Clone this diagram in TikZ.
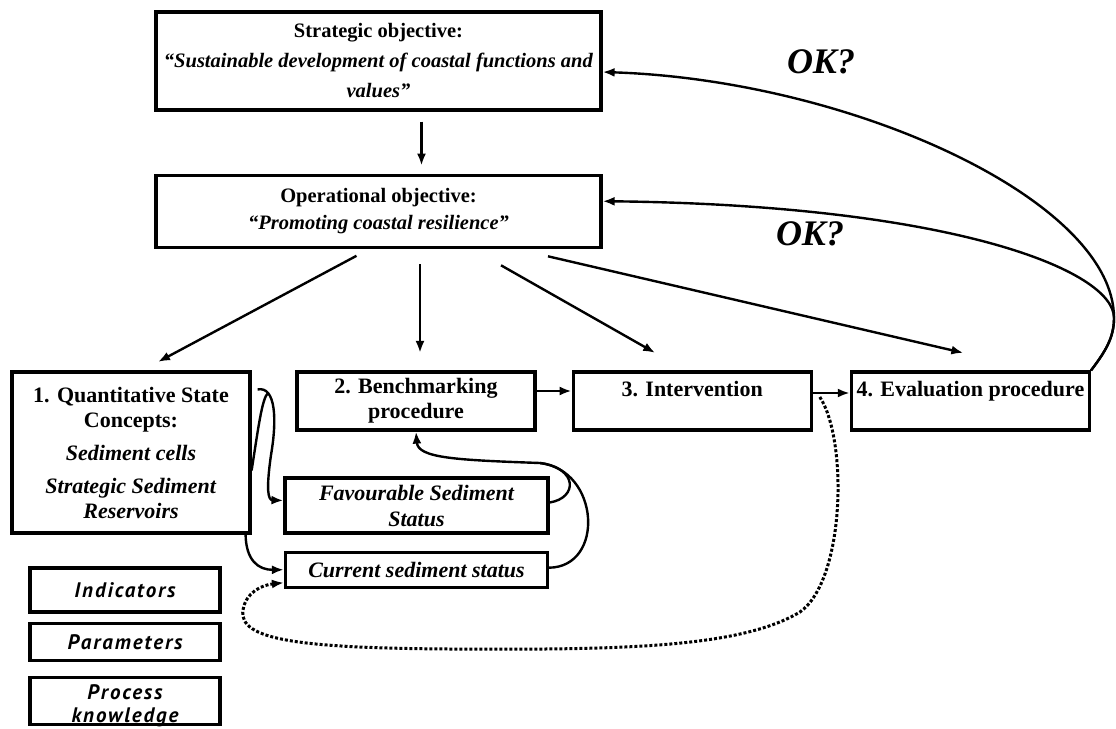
\documentclass[tikz,border=0pt]{standalone}
\usepackage{fontspec}
\setmainfont{Liberation Serif}
\newfontfamily\gillish[LetterSpace=9]{PT Sans}
\usetikzlibrary{positioning,arrows.meta}

\begin{document}
\begin{tikzpicture}[
  x=1pt, y=-1pt,
  >={Latex[length=12pt,width=9pt]},
  objbox/.style={
    rectangle, draw, line width=3.2pt, minimum width=445pt, align=center,
    inner sep=2pt, font=\fontsize{20.5}{30}\selectfont\bfseries
  },
  stagebox/.style={
    rectangle, draw, line width=3.2pt, minimum width=238pt, minimum height=58pt,
    align=center, inner sep=2pt, font=\fontsize{22}{25}\selectfont\bfseries
  },
  statusbox/.style={
    rectangle, draw, line width=3.2pt, minimum width=263pt, align=center,
    inner sep=2pt, font=\fontsize{22}{26}\selectfont\bfseries\itshape
  },
  inputbox/.style={
    rectangle, draw, line width=3.2pt, minimum width=190pt, align=center,
    inner sep=2pt, font=\gillish\fontsize{21}{23}\selectfont\bfseries\itshape
  },
  flow/.style={->, line width=2.4pt},
  okmark/.style={font=\fontsize{36}{36}\selectfont\bfseries\itshape}
]
\useasboundingbox (0,0) rectangle (1116,728);

% objectives
\node[objbox, minimum height=98pt] (strat) at (378.5,61) {Strategic objective:\\
  \textit{“Sustainable development of coastal functions and}\\
  \textit{values”}};
\node[objbox, minimum height=72pt, below=62pt of strat,
  font=\fontsize{20.5}{27}\selectfont\bfseries] (oper) {Operational objective:\\
  \textit{“Promoting coastal resilience”}};

% the four stages
\node[stagebox, minimum height=161pt] (qsc) at (131,452.5) {1. Quantitative State\\
  Concepts:\\[8pt]
  \textit{Sediment cells}\\[8pt]
  \textit{Strategic Sediment}\\
  \textit{Reservoirs}};
\node[stagebox] (bench) at (416,401) {2. Benchmarking\\procedure};
\node[stagebox, right=35pt of bench] (interv) {3. Intervention\\\mbox{}};
\node[stagebox, right=37pt of interv] (evalp) {4. Evaluation procedure\\\mbox{}};

% sediment status
\node[statusbox, minimum height=55pt] (fav) at (416.5,505.5) {Favourable Sediment\\Status};
\node[statusbox, minimum height=35pt, minimum width=262pt, below=16pt of fav] (curr)
  {Current sediment status};

% inputs
\node[inputbox, minimum height=44pt] (ind) at (125,590) {Indicators};
\node[inputbox, minimum height=37pt, below=8pt of ind] (param) {Parameters};
\node[inputbox, minimum height=41pt, text height=43pt, text depth=-6pt,
  below=14pt of param] (proc) {Process\\knowledge};

\node[okmark] (ok1) at (821,62) {OK?};
\node[okmark] (ok2) at (810,234) {OK?};

\coordinate (merge) at (540,463);

\draw[flow, shorten <=10pt, shorten >=8pt] ([xshift=43pt]strat.south) -- ([xshift=43pt]oper.north);

\draw[flow] ([xshift=-22pt,yshift=-7pt]oper.south) -- ([xshift=27pt,yshift=8.5pt]qsc.north);
\draw[flow] ([xshift=41.5pt,yshift=-15.5pt]oper.south) -- ([xshift=4pt,yshift=17.5pt]bench.north);
\draw[flow] ([xshift=122.5pt,yshift=-16.5pt]oper.south) -- ([xshift=-37pt,yshift=17.5pt]interv.north);
\draw[flow] ([xshift=169.5pt,yshift=-7.5pt]oper.south) -- ([xshift=-7pt,yshift=17.5pt]evalp.north);

\draw[flow] ([yshift=10pt]bench.east) -- ([yshift=10pt]interv.west);
\draw[flow] ([yshift=8pt]interv.east) -- ([yshift=8pt]evalp.west);

% feedback loops
\draw[flow] (evalp.north east) .. controls (1105,352) and (1114,338) .. (1114,318)
  .. controls (1114,200) and (850,80) .. ([yshift=-11pt]strat.east);
\draw[flow] (evalp.north east) .. controls (1105,352) and (1114,338) .. (1114,318)
  .. controls (1114,270) and (950,205) .. ([yshift=10pt]oper.east);

% state concepts to status
\draw[flow] ([xshift=6pt,yshift=-19pt]qsc.north east) .. controls (276,386) and (277,420) .. (271,455)
  .. controls (266,490) and (268,500) .. ([yshift=5pt]fav.west);
\draw[line width=2.4pt] ([yshift=-18pt]qsc.east) .. controls (258,430) and (262,398) .. (268,393);
\draw[flow] ([xshift=-6pt]qsc.south east) .. controls (246,560) and (258,570) .. (curr.west);

% status to benchmarking
\draw[flow] ([yshift=3pt]fav.east) .. controls (578,498) and (578,468) .. (merge)
  .. controls (455,460) and (418,458) .. (bench.south);
\draw[line width=2.4pt] ([yshift=2pt]curr.east) .. controls (605,567) and (600,470) .. (merge);

% intervention back to current status
\draw[->, line width=3pt, dotted] ([xshift=7pt,yshift=4pt]interv.east)
  .. controls (848,440) and (845,580) .. (800,612)
  .. controls (740,648) and (620,650) .. (450,649)
  .. controls (300,648) and (238,640) .. (243,610)
  .. controls (246,592) and (262,585) .. ([yshift=-13pt]curr.west);

\end{tikzpicture}
\end{document}
